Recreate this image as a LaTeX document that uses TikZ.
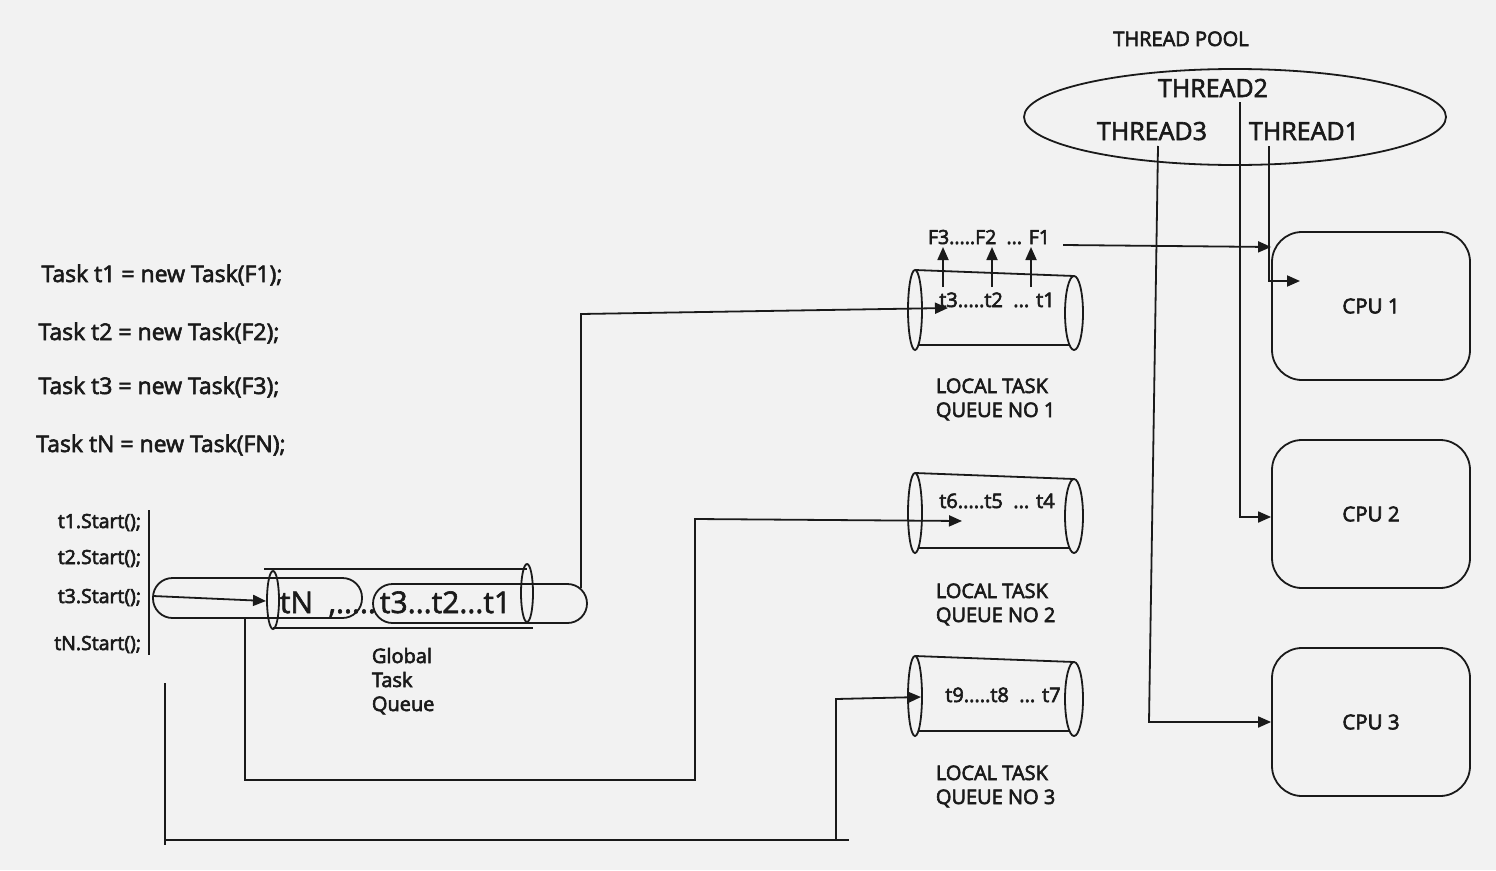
\documentclass[tikz,border=0pt]{standalone}
\usepackage{fontspec}
\setmainfont{Open Sans}
\usetikzlibrary{arrows.meta,shapes.geometric}
\definecolor{bg}{HTML}{F2F2F2}
\definecolor{ink}{HTML}{1A1A1A}
\newcommand{\fs}[1]{\fontsize{#1}{#1}\selectfont}
\newcommand{\heavyon}{\special{pdf:literal direct 2 Tr 0.6 w}}
\newcommand{\heavyoff}{\special{pdf:literal direct 0 Tr 1.7933 w}}
\begin{document}
\begin{tikzpicture}[x=1pt,y=-1pt,line width=1.8pt,draw=ink,
  arr/.style={-{Triangle[length=13pt,width=11pt]}},
  heavy/.style={execute at begin node=\heavyon,execute at end node=\heavyoff},
  txt/.style={inner sep=0pt,text=ink,heavy},
  code/.style={txt,font=\fs{23}},
  startc/.style={txt,font=\fs{19.5},anchor=base east},
  lbl/.style={txt,font=\fs{20},anchor=base west},
  qtxt/.style={txt,font=\fs{20},anchor=base},
  thr/.style={txt,font=\fs{25},anchor=base},
  cpu/.style={draw=ink,rounded corners=30pt,minimum width=198pt,minimum height=148pt,font=\fs{20.5},text=ink,heavy},
  pill/.style={draw=ink,rounded corners=19.5pt,inner sep=0pt}]
\fill[bg] (0,0) rectangle (1496,870);
\useasboundingbox (0,0) rectangle (1496,870);

% code text
\node[code,anchor=base] (c1) at (162,282) {Task t1 = new Task(F1);};
\node[code,anchor=base] (c2) at (159,340) {Task t2 = new Task(F2);};
\node[code,anchor=base] (c3) at (159,394) {Task t3 = new Task(F3);};
\node[code,anchor=base] (c4) at (161,452) {Task tN = new Task(FN);};

\node[startc] (s1) at (142,528) {t1.Start();};
\node[startc] (s2) at (142,564) {t2.Start();};
\node[startc] (s3) at (142,603) {t3.Start();};
\node[startc] (s4) at (142,650) {tN.Start();};
\coordinate (bart) at (149,510);
\coordinate (barb) at (149,655);
\draw (bart) -- (barb);

% global queue
\node[pill,minimum width=209pt,minimum height=40pt] (p1) at (257.5,598) {};
\node[pill,minimum width=214pt,minimum height=39pt] (p2) at (480,603.5) {};
\coordinate (gtl) at (264,569); \coordinate (gtr) at (527,569);
\coordinate (gbl) at (273,628); \coordinate (gbr) at (533,628);
\draw (gtl) -- (gtr);
\draw (gbl) -- (gbr);
\draw (273,600) ellipse [x radius=6,y radius=29];
\draw (527,593) ellipse [x radius=6,y radius=29];
\node[txt,font=\fs{30},anchor=base west] (gq1) at (279,613) {tN\ \ ,.....};
\node[txt,font=\fs{30},anchor=base east] (gq2) at (512,613) {t3...t2...t1};
\coordinate (ain) at (153,596);
\coordinate (aout) at (266,601);
\draw[arr] (ain) -- (aout);

\node[lbl] (gl1) at (371,663) {Global};
\node[lbl] (gl2) at (371,687) {Task};
\node[lbl] (gl3) at (371,711) {Queue};

% local queues
\foreach \n/\y in {1/310,2/513,3/696}{
  \draw (915,\y-40) -- (1074,\y-34);
  \draw (919,\y+35) -- (1070,\y+35);
  \draw (915,\y) ellipse [x radius=7,y radius=40];
  \draw (1074,\y+3) ellipse [x radius=9,y radius=37];
}
\node[qtxt] (q1) at (997,307) {t3.....t2\ \ ... t1};
\node[qtxt] (q2) at (997,508) {t6.....t5\ \ ... t4};
\node[qtxt] (q3) at (1003,702) {t9.....t8\ \ ... t7};
\node[qtxt,font=\fs{19.5}] (f1) at (989,244) {F3.....F2\ \ ... F1};

\foreach \x [count=\i] in {943,992,1031}{
  \coordinate (tu\i) at (\x,287);
  \coordinate (fu\i) at (\x,247);
  \draw[arr] (tu\i) -- (fu\i);
}

\node[lbl] (l1a) at (935,393) {LOCAL TASK};
\node[lbl] (l1b) at (935,417) {QUEUE NO 1};
\node[lbl] (l2a) at (935,598) {LOCAL TASK};
\node[lbl] (l2b) at (935,622) {QUEUE NO 2};
\node[lbl] (l3a) at (935,780) {LOCAL TASK};
\node[lbl] (l3b) at (935,804) {QUEUE NO 3};

% connectors from global queue
\coordinate (k1a) at (581,588); \coordinate (k1b) at (581,314); \coordinate (k1c) at (948,308);
\draw[arr] (k1a) -- (k1b) -- (k1c);
\coordinate (k2a) at (245,618); \coordinate (k2b) at (245,780); \coordinate (k2c) at (695,780);
\coordinate (k2d) at (695,519); \coordinate (k2e) at (962,521);
\draw[arr] (k2a) -- (k2b) -- (k2c) -- (k2d) -- (k2e);
\coordinate (k3a) at (165,683); \coordinate (k3b) at (165,845);
\coordinate (k3c) at (165,840); \coordinate (k3d) at (849,840);
\coordinate (k3e) at (836,840); \coordinate (k3f) at (836,699); \coordinate (k3g) at (921,697);
\draw (k3a) -- (k3b);
\draw (k3c) -- (k3d);
\draw[arr] (k3e) -- (k3f) -- (k3g);

% thread pool
\node[txt,font=\fs{20},anchor=base] (tp) at (1181,46) {THREAD POOL};
\node[draw=ink,ellipse,minimum width=422pt,minimum height=96pt,inner sep=0pt] (pool) at (1235,117) {};
\node[thr] (th2) at (1213,97) {THREAD2};
\node[thr] (th3) at (1152,140) {THREAD3};
\node[thr] (th1) at (1304,140) {THREAD1};

% CPUs
\node[cpu] (cpu1) at (1371,306) {CPU 1};
\node[cpu] (cpu2) at (1371,514) {CPU 2};
\node[cpu] (cpu3) at (1371,722) {CPU 3};

\coordinate (fa) at (1063,245);
\draw[arr] (fa) -- (cpu1.west |- 0,247);
\coordinate (t1a) at (1269,146); \coordinate (t1b) at (1269,281); \coordinate (t1c) at (1300,281);
\draw[arr] (t1a) -- (t1b) -- (t1c);
\coordinate (t2a) at (1240,102); \coordinate (t2b) at (1240,517);
\draw[arr] (t2a) -- (t2b) -- (cpu2.west |- t2b);
\coordinate (t3a) at (1158,146); \coordinate (t3b) at (1149,722);
\draw[arr] (t3a) -- (t3b) -- (cpu3.west |- t3b);
\end{tikzpicture}
\end{document}
